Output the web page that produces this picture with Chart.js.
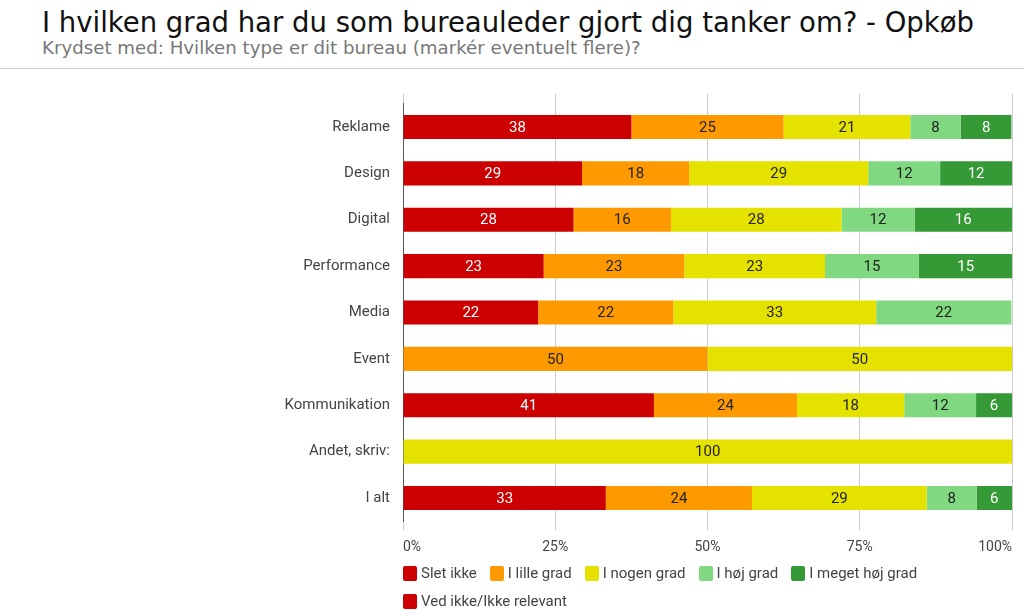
<!DOCTYPE html>
<html>
<head>
<meta charset="utf-8">
<script src="https://cdn.jsdelivr.net/npm/chart.js@4/dist/chart.umd.min.js"></script>
<style>
    body { margin: 0; background: #fff; width: 1024px; height: 614px; overflow: hidden; position: relative; }
    #head { position: absolute; left: 0; top: 0; width: 1024px; height: 68px; border-bottom: 1px solid #cfcfcf; }
    #title { position: absolute; left: 42px; top: 6px; font-family: "DejaVu Sans"; font-size: 27.5px; line-height: 32px; color: #111; white-space: nowrap; }
    #subtitle { position: absolute; left: 42px; top: 37px; font-family: "DejaVu Sans"; font-size: 18.2px; line-height: 22px; color: #777; white-space: nowrap; }
    #wrap { position: absolute; left: 0; top: 70px; width: 1024px; height: 500px; }
    #legend { position: absolute; left: 403px; top: 559px; width: 570px; display: flex; flex-wrap: wrap; font-family: Roboto; font-size: 15px; color: #444; }
    #legend .item { display: flex; align-items: center; height: 28px; margin-right: 13px; }
    #legend .box { width: 14px; height: 15px; border-radius: 2px; margin-right: 4px; }
</style>
</head>
<body>
<div id="head">
    <div id="title">I hvilken grad har du som bureauleder gjort dig tanker om? - Opkøb</div>
    <div id="subtitle">Krydset med: Hvilken type er dit bureau (markér eventuelt flere)?</div>
</div>
<div id="wrap"><canvas id="chart"></canvas></div>
<div id="legend"></div>
<script>
// categories (rows) and answer series, values in percent of each row
var categories = ['Reklame', 'Design', 'Digital', 'Performance', 'Media', 'Event', 'Kommunikation', 'Andet, skriv:', 'I alt'];
var seriesNames = ['Slet ikke', 'I lille grad', 'I nogen grad', 'I høj grad', 'I meget høj grad', 'Ved ikke/Ikke relevant'];
var sletIkke = [37.5, 29.4, 28, 23.1, 22.2, 0, 41.2, 0, 33.3];
var lilleGrad = [25, 17.6, 16, 23.1, 22.2, 50, 23.5, 0, 24];
var nogenGrad = [20.8, 29.4, 28, 23.1, 33.3, 50, 17.6, 100, 28.7];
var hoejGrad = [8.3, 11.8, 12, 15.4, 22.2, 0, 11.8, 0, 8.2];
var megetHoejGrad = [8.3, 11.8, 16, 15.4, 0, 0, 5.9, 0, 5.8];
var vedIkke = [0, 0, 0, 0, 0, 0, 0, 0, 0];
var xTicks = [0, 25, 50, 75, 100];

var colors = ['#cc0000', '#ff9900', '#e6e200', '#80d880', '#359a35', '#cc0000'];
var labelColors = ['#ffffff', '#222222', '#222222', '#222222', '#ffffff', '#ffffff'];
var allSeries = [sletIkke, lilleGrad, nogenGrad, hoejGrad, megetHoejGrad, vedIkke];

var datasets = allSeries.map(function (values, i) {
    return {
        label: seriesNames[i],
        data: values,
        backgroundColor: colors[i],
        borderWidth: 0,
        barPercentage: 0.52,
        categoryPercentage: 1
    };
});

// draws the rounded value in the middle of each segment
var segmentLabels = {
    id: 'segmentLabels',
    afterDatasetsDraw: function (chart) {
        var ctx = chart.ctx;
        ctx.save();
        ctx.font = '15px Roboto';
        ctx.textAlign = 'center';
        ctx.textBaseline = 'middle';
        chart.data.datasets.forEach(function (ds, i) {
            chart.getDatasetMeta(i).data.forEach(function (bar, j) {
                var v = ds.data[j];
                if (!v) return;
                ctx.fillStyle = labelColors[i];
                ctx.fillText(Math.round(v), (bar.x + bar.base) / 2, bar.y + 1);
            });
        });
        ctx.restore();
    }
};

new Chart(document.getElementById('chart'), {
    type: 'bar',
    data: { labels: categories, datasets: datasets },
    plugins: [segmentLabels],
    options: {
        indexAxis: 'y',
        responsive: true,
        maintainAspectRatio: false,
        animation: false,
        layout: { padding: { top: 33.75, right: 12, bottom: 8.75, left: 0 } },
        plugins: {
            legend: { display: false },
            tooltip: { enabled: false }
        },
        scales: {
            x: {
                stacked: true,
                min: 0,
                max: 100,
                afterBuildTicks: function (scale) {
                    scale.ticks = xTicks.map(function (v) { return { value: v }; });
                },
                afterFit: function (scale) { scale.height = 40; },
                grid: { color: '#cccccc', tickLength: 9, drawTicks: true },
                border: { display: false },
                ticks: {
                    align: 'inner',
                    padding: 9,
                    color: '#444444',
                    font: { family: 'Roboto', size: 14 },
                    callback: function (value) { return value + '%'; }
                }
            },
            xTop: {
                position: 'top',
                axis: 'x',
                min: 0,
                max: 100,
                afterBuildTicks: function (scale) {
                    scale.ticks = xTicks.map(function (v) { return { value: v }; });
                },
                afterFit: function (scale) { scale.height = 0; },
                grid: { color: '#cccccc', tickLength: 10, drawOnChartArea: false },
                border: { display: false },
                ticks: { display: false }
            },
            y: {
                stacked: true,
                afterFit: function (scale) { scale.width = 403; },
                grid: { display: false, drawTicks: false },
                border: { display: true, color: '#555555', width: 1 },
                ticks: {
                    padding: 13,
                    color: '#444444',
                    font: { family: 'Roboto', size: 15 }
                }
            }
        }
    }
});

// legend below the plot, built from the same series
var legend = document.getElementById('legend');
seriesNames.forEach(function (name, i) {
    var item = document.createElement('div');
    item.className = 'item';
    var box = document.createElement('span');
    box.className = 'box';
    box.style.background = colors[i];
    var text = document.createElement('span');
    text.textContent = name;
    item.appendChild(box);
    item.appendChild(text);
    legend.appendChild(item);
});
</script>
</body>
</html>
